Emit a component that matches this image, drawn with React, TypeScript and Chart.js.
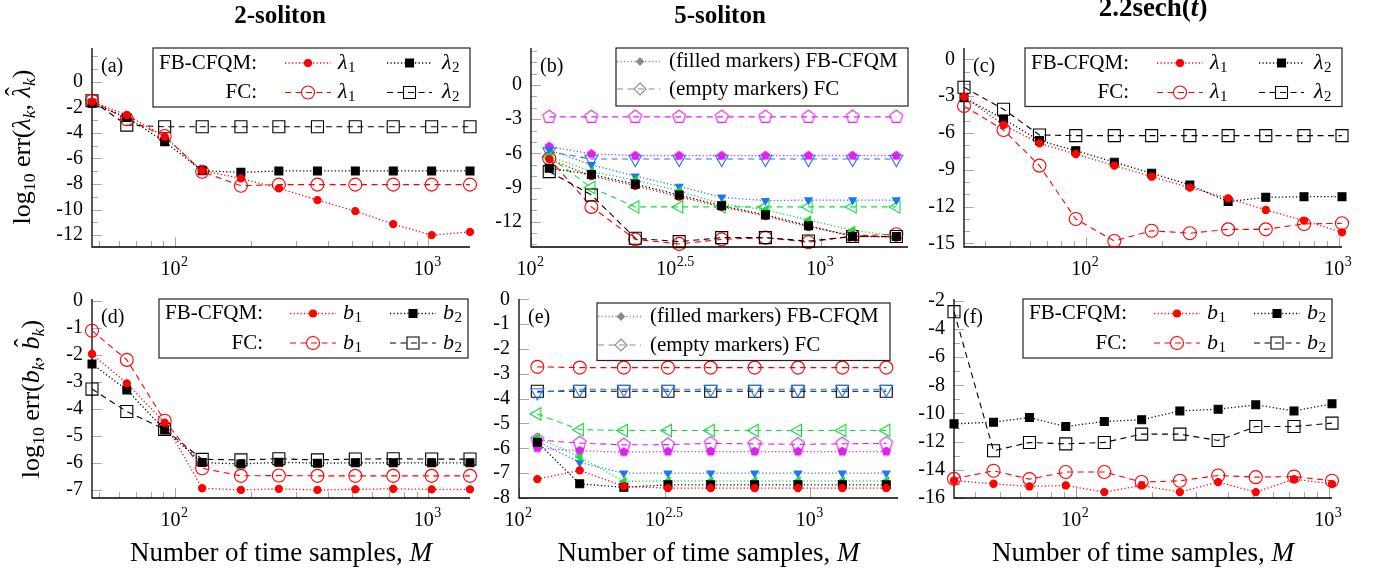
import React, { useEffect, useRef } from 'react';
import { Chart, registerables } from 'chart.js';

Chart.register(...registerables);

const FONT = "'Liberation Serif', 'Times New Roman', Times, serif";

// ---------------- data ----------------
// numbers of time samples M
const M_TWO = [47, 64.5, 91, 128, 182, 257, 365, 515, 727, 1031, 1461]; // (a),(d)
const M_FIVE = [115.6, 161.6, 229, 324.6, 455, 644, 907, 1288, 1823]; // (b),(e)
const M_SECH = [33, 47.3, 65.6, 91.3, 129.7, 182.2, 258, 365.6, 515, 729.5, 1031]; // (c),(f)

// x tick labels: 10^e
const X_EXP_DECADE = [2, 3];
const X_EXP_HALF = [2, 2.5, 3];

// y tick labels
const Y_TICKS_A = [0, -2, -4, -6, -8, -10, -12];
const Y_TICKS_B = [0, -3, -6, -9, -12];
const Y_TICKS_C = [0, -3, -6, -9, -12, -15];
const Y_TICKS_D = [0, -1, -2, -3, -4, -5, -6, -7];
const Y_TICKS_E = [0, -1, -2, -3, -4, -5, -6, -7, -8];
const Y_TICKS_F = [-2, -4, -6, -8, -10, -12, -14, -16];

// (a) 2-soliton, eigenvalues
const A_FB_L1 = [-1.56, -2.6, -4.3, -6.96, -7.56, -8.34, -9.26, -10.12, -11.14, -12.0, -11.75];
const A_FB_L2 = [-1.69, -2.79, -4.69, -6.96, -7.09, -6.98, -6.98, -6.98, -6.98, -6.98, -6.98];
const A_FC_L1 = [-1.49, -2.94, -4.25, -7.04, -8.14, -8.05, -8.05, -8.05, -8.05, -8.05, -8.05];
const A_FC_L2 = [-1.49, -3.39, -3.52, -3.52, -3.52, -3.52, -3.52, -3.52, -3.52, -3.52, -3.52];

// (b) 5-soliton, eigenvalues
const B_FB_MAG = [-5.4, -6.05, -6.2, -6.2, -6.2, -6.2, -6.2, -6.2, -6.2];
const B_FB_BLUE = [-5.7, -7.0, -8.0, -8.9, -9.85, -10.15, -10.1, -10.1, -10.1];
const B_FB_GREEN = [-6.25, -7.6, -8.35, -9.3, -10.45, -10.95, -11.85, -12.75, -13.25];
const B_FB_BLACK = [-7.3, -7.85, -8.7, -9.65, -10.6, -11.4, -12.35, -13.3, -13.3];
const B_FB_RED = [-6.5, -8.0, -8.85, -9.8, -10.7, -11.5, -12.45, -13.2, -13.4];
const B_FC_MAG = [-2.8, -2.8, -2.8, -2.8, -2.8, -2.8, -2.8, -2.8, -2.8];
const B_FC_BLUE = [-5.85, -6.5, -6.5, -6.5, -6.5, -6.5, -6.5, -6.5, -6.5];
const B_FC_GREEN = [-6.3, -9.0, -10.7, -10.7, -10.7, -10.7, -10.7, -10.7, -10.7];
const B_FC_BLACK = [-7.6, -9.65, -13.45, -13.75, -13.4, -13.4, -13.7, -13.3, -13.3];
const B_FC_RED = [-6.45, -10.7, -13.55, -13.95, -13.55, -13.4, -13.8, -13.25, -13.1];

// (c) 2.2 sech(t), eigenvalues
const C_FB_L1 = [-3.05, -5.35, -6.85, -7.72, -8.67, -9.57, -10.46, -11.33, -12.28, -13.15, -14.1];
const C_FB_L2 = [-3.13, -4.87, -6.63, -7.45, -8.39, -9.29, -10.24, -11.6, -11.25, -11.2, -11.2];
const C_FC_L1 = [-3.81, -5.76, -8.67, -13.02, -14.81, -13.97, -14.18, -13.86, -13.86, -13.42, -13.37];
const C_FC_L2 = [-2.28, -4.07, -6.17, -6.22, -6.22, -6.22, -6.22, -6.22, -6.22, -6.22, -6.22];

// (d) 2-soliton, norming constants
const D_FB_B1 = [-1.97, -3.06, -4.51, -6.94, -7.0, -6.96, -7.0, -6.98, -6.96, -6.98, -6.98];
const D_FB_B2 = [-2.34, -3.3, -4.78, -5.99, -6.04, -5.98, -6.01, -6.0, -6.0, -6.0, -6.0];
const D_FC_B1 = [-1.11, -2.19, -4.44, -6.2, -6.48, -6.47, -6.48, -6.48, -6.48, -6.48, -6.48];
const D_FC_B2 = [-3.27, -4.1, -4.76, -5.87, -5.89, -5.85, -5.89, -5.86, -5.85, -5.86, -5.86];

// (e) 5-soliton, norming constants
const E_FB_MAG = [-5.99, -6.1, -6.15, -6.13, -6.13, -6.13, -6.13, -6.13, -6.13];
const E_FB_BLUE = [-5.72, -6.57, -7.0, -7.0, -7.0, -7.0, -7.0, -7.0, -7.0];
const E_FB_GREEN = [-5.56, -6.35, -7.33, -7.31, -7.31, -7.31, -7.31, -7.31, -7.31];
const E_FB_BLACK = [-5.76, -7.43, -7.57, -7.47, -7.47, -7.47, -7.47, -7.47, -7.47];
const E_FB_RED = [-7.24, -6.89, -7.53, -7.6, -7.6, -7.6, -7.6, -7.6, -7.6];
const E_FC_RED = [-2.72, -2.75, -2.75, -2.75, -2.75, -2.75, -2.75, -2.75, -2.75];
const E_FC_BLACK = [-3.7, -3.7, -3.7, -3.7, -3.7, -3.7, -3.7, -3.7, -3.7];
const E_FC_BLUE = [-3.75, -3.62, -3.62, -3.62, -3.62, -3.62, -3.62, -3.62, -3.62];
const E_FC_GREEN = [-4.62, -5.25, -5.28, -5.28, -5.28, -5.28, -5.28, -5.28, -5.28];
const E_FC_MAG = [-5.66, -5.79, -5.86, -5.85, -5.8, -5.82, -5.84, -5.82, -5.8];

// (f) 2.2 sech(t), norming constants
const F_FB_B1 = [-14.76, -14.99, -15.18, -15.11, -15.58, -15.11, -15.58, -14.87, -15.58, -14.66, -15.01];
const F_FB_B2 = [-10.74, -10.62, -10.29, -10.93, -10.57, -10.45, -9.82, -9.7, -9.39, -9.82, -9.32];
const F_FC_B1 = [-14.64, -14.07, -14.66, -14.16, -14.16, -14.87, -14.78, -14.4, -14.52, -14.48, -14.78];
const F_FC_B2 = [-2.78, -12.65, -12.06, -12.16, -12.06, -11.47, -11.47, -11.92, -10.93, -10.93, -10.69];

// ---------------- styles ----------------
const RED = '#ff0000';
const BLACK = '#000000';
const GREEN = '#12e03c';
const BLUE = '#1f77f0';
const MAG = '#dc22ee';
const GREY = '#8a8a8a';
const TICK_COLOR = '#a8a8a8';
const DOTTED = [1.2, 2.3];
const DASHED = [6, 4.5];

type Marker = 'circle' | 'rect' | 'triD' | 'triL' | 'pent';
interface SeriesDef { xs: number[]; ys: number[]; color: string; filled: boolean; marker: Marker; }

const MARKER_SIZE: Record<Marker, [number, number]> = {
  circle: [3.6, 6.5],
  rect: [5.6, 8.5],
  triD: [4.3, 7.5],
  triL: [4.3, 7.2],
  pent: [4.3, 6.7],
};

function makePentagon(color: string, filled: boolean, r: number) {
  const s = Math.ceil(2 * r + 4);
  const c = document.createElement('canvas');
  c.width = s; c.height = s;
  const g = c.getContext('2d')!;
  g.beginPath();
  for (let k = 0; k < 5; k++) {
    const a = -Math.PI / 2 + (k * 2 * Math.PI) / 5;
    const px = s / 2 + r * Math.cos(a), py = s / 2 + r * Math.sin(a);
    if (k === 0) g.moveTo(px, py); else g.lineTo(px, py);
  }
  g.closePath();
  if (filled) { g.fillStyle = color; g.fill(); }
  g.strokeStyle = color; g.lineWidth = 1.1; g.stroke();
  return c;
}

function buildDataset(s: SeriesDef) {
  const size = MARKER_SIZE[s.marker][s.filled ? 0 : 1];
  let pointStyle: any = 'circle';
  let rotation = 0;
  if (s.marker === 'rect') pointStyle = 'rect';
  if (s.marker === 'triD') { pointStyle = 'triangle'; rotation = 180; }
  if (s.marker === 'triL') { pointStyle = 'triangle'; rotation = 270; }
  if (s.marker === 'pent') pointStyle = makePentagon(s.color, s.filled, size);
  return {
    data: s.xs.map((x, i) => ({ x, y: s.ys[i] })),
    borderColor: s.color,
    borderWidth: s.filled ? 1.3 : 1.1,
    borderDash: s.filled ? DOTTED : DASHED,
    pointStyle,
    pointRotation: rotation,
    pointRadius: size,
    pointHoverRadius: size,
    pointBackgroundColor: s.filled ? s.color : 'rgba(0,0,0,0)',
    pointBorderColor: s.color,
    pointBorderWidth: 1.1,
    fill: false,
    tension: 0,
    clip: false,
  };
}

interface LegendDef {
  kind: 'grid' | 'note';
  sym?: string;
  w: number; h: number; dx: number; dy: number;
  cols?: number[][];
  rowY: number[];
}

interface PanelDef {
  key: string; L: number; T: number; R: number; B: number;
  xMin: number; xMax: number; yMin: number; yMax: number;
  yTicks: number[]; yMinor: boolean; xExp: number[]; xMinor: boolean;
  label: string; series: SeriesDef[]; legend: LegendDef;
}

const s = (xs: number[], ys: number[], color: string, filled: boolean, marker: Marker): SeriesDef => ({ xs, ys, color, filled, marker });

const LAMBDA_COLS = [[132, 178, 185], [234, 279, 289]];
const B_COLS = [[131, 177, 184], [231, 277, 284]];

const PANELS: PanelDef[] = [
  {
    key: 'a', L: 92, T: 48, R: 470, B: 247, xMin: 47, xMax: 1461, yMin: -12.93, yMax: 2.64,
    yTicks: Y_TICKS_A, yMinor: true, xExp: X_EXP_DECADE, xMinor: true, label: '(a)',
    series: [
      s(M_TWO, A_FB_L1, RED, true, 'circle'),
      s(M_TWO, A_FB_L2, BLACK, true, 'rect'),
      s(M_TWO, A_FC_L1, RED, false, 'circle'),
      s(M_TWO, A_FC_L2, BLACK, false, 'rect'),
    ],
    legend: { kind: 'grid', sym: 'λ', w: 317, h: 59, dx: 0, dy: 0, cols: LAMBDA_COLS, rowY: [15, 44.5] },
  },
  {
    key: 'b', L: 531, T: 48, R: 908, B: 247, xMin: 100, xMax: 2000, yMin: -14.22, yMax: 3.25,
    yTicks: Y_TICKS_B, yMinor: true, xExp: X_EXP_HALF, xMinor: false, label: '(b)',
    series: [
      s(M_FIVE, B_FB_BLACK, BLACK, true, 'rect'),
      s(M_FIVE, B_FB_RED, RED, true, 'circle'),
      s(M_FIVE, B_FB_GREEN, GREEN, true, 'triL'),
      s(M_FIVE, B_FB_BLUE, BLUE, true, 'triD'),
      s(M_FIVE, B_FB_MAG, MAG, true, 'pent'),
      s(M_FIVE, B_FC_BLACK, BLACK, false, 'rect'),
      s(M_FIVE, B_FC_RED, RED, false, 'circle'),
      s(M_FIVE, B_FC_GREEN, GREEN, false, 'triL'),
      s(M_FIVE, B_FC_BLUE, BLUE, false, 'triD'),
      s(M_FIVE, B_FC_MAG, MAG, false, 'pent'),
    ],
    legend: { kind: 'note', w: 292, h: 58, dx: 0, dy: 0, rowY: [13.5, 41] },
  },
  {
    key: 'c', L: 964, T: 48, R: 1342, B: 247, xMin: 33, xMax: 1031, yMin: -15.3, yMax: 0.92,
    yTicks: Y_TICKS_C, yMinor: true, xExp: X_EXP_DECADE, xMinor: true, label: '(c)',
    series: [
      s(M_SECH, C_FB_L1, RED, true, 'circle'),
      s(M_SECH, C_FB_L2, BLACK, true, 'rect'),
      s(M_SECH, C_FC_L1, RED, false, 'circle'),
      s(M_SECH, C_FC_L2, BLACK, false, 'rect'),
    ],
    legend: { kind: 'grid', sym: 'λ', w: 317, h: 58.5, dx: 0, dy: 0, cols: LAMBDA_COLS, rowY: [15, 44.5] },
  },
  {
    key: 'd', L: 92, T: 299, R: 470, B: 498, xMin: 47, xMax: 1461, yMin: -7.3, yMax: 0.063,
    yTicks: Y_TICKS_D, yMinor: false, xExp: X_EXP_DECADE, xMinor: true, label: '(d)',
    series: [
      s(M_TWO, D_FB_B1, RED, true, 'circle'),
      s(M_TWO, D_FB_B2, BLACK, true, 'rect'),
      s(M_TWO, D_FC_B1, RED, false, 'circle'),
      s(M_TWO, D_FC_B2, BLACK, false, 'rect'),
    ],
    legend: { kind: 'grid', sym: 'b', w: 309, h: 59, dx: -2, dy: 0, cols: B_COLS, rowY: [14.5, 44] },
  },
  {
    key: 'e', L: 519, T: 299, R: 898, B: 498, xMin: 100, xMax: 2000, yMin: -8, yMax: 0.012,
    yTicks: Y_TICKS_E, yMinor: false, xExp: X_EXP_HALF, xMinor: false, label: '(e)',
    series: [
      s(M_FIVE, E_FB_RED, RED, true, 'circle'),
      s(M_FIVE, E_FB_BLACK, BLACK, true, 'rect'),
      s(M_FIVE, E_FB_GREEN, GREEN, true, 'triL'),
      s(M_FIVE, E_FB_BLUE, BLUE, true, 'triD'),
      s(M_FIVE, E_FB_MAG, MAG, true, 'pent'),
      s(M_FIVE, E_FC_BLUE, BLUE, false, 'triD'),
      s(M_FIVE, E_FC_BLACK, BLACK, false, 'rect'),
      s(M_FIVE, E_FC_RED, RED, false, 'circle'),
      s(M_FIVE, E_FC_GREEN, GREEN, false, 'triL'),
      s(M_FIVE, E_FC_MAG, MAG, false, 'pent'),
    ],
    legend: { kind: 'note', w: 293, h: 57.5, dx: -8, dy: 4, rowY: [13.5, 42] },
  },
  {
    key: 'f', L: 954, T: 299, R: 1332, B: 498, xMin: 33, xMax: 1031, yMin: -16, yMax: -1.88,
    yTicks: Y_TICKS_F, yMinor: true, xExp: X_EXP_DECADE, xMinor: true, label: '(f)',
    series: [
      s(M_SECH, F_FB_B1, RED, true, 'circle'),
      s(M_SECH, F_FB_B2, BLACK, true, 'rect'),
      s(M_SECH, F_FC_B1, RED, false, 'circle'),
      s(M_SECH, F_FC_B2, BLACK, false, 'rect'),
    ],
    legend: { kind: 'grid', sym: 'b', w: 309, h: 59, dx: 0, dy: 0, cols: B_COLS, rowY: [14.5, 44] },
  },
];

const PAD_L = 92, PAD_T = 30, PAD_R = 20, PAD_B = 45;

function drawMarker(ctx: CanvasRenderingContext2D, marker: string, x: number, y: number, color: string, filled: boolean) {
  ctx.save();
  ctx.setLineDash([]);
  ctx.strokeStyle = color; ctx.fillStyle = color; ctx.lineWidth = 1.1;
  ctx.beginPath();
  if (marker === 'circle') {
    ctx.arc(x, y, filled ? 3.5 : 6.5, 0, Math.PI * 2);
  } else if (marker === 'rect') {
    const h = filled ? 4 : 6;
    ctx.rect(x - h, y - h, 2 * h, 2 * h);
  } else {
    const h = filled ? 3.6 : 6;
    ctx.moveTo(x, y - h); ctx.lineTo(x + h, y); ctx.lineTo(x, y + h); ctx.lineTo(x - h, y); ctx.closePath();
  }
  if (filled) ctx.fill();
  ctx.stroke();
  ctx.restore();
}

function sampleLine(ctx: CanvasRenderingContext2D, x0: number, x1: number, y: number, color: string, filled: boolean) {
  ctx.save();
  ctx.strokeStyle = color;
  ctx.lineWidth = filled ? 1.3 : 1.1;
  ctx.setLineDash(filled ? DOTTED : DASHED);
  ctx.beginPath(); ctx.moveTo(x0, y); ctx.lineTo(x1, y); ctx.stroke();
  ctx.restore();
}

function drawLegend(ctx: CanvasRenderingContext2D, ca: any, lg: LegendDef) {
  const x0 = ca.right + lg.dx - lg.w, y0 = ca.top + lg.dy;
  ctx.save();
  ctx.fillStyle = '#ffffff'; ctx.fillRect(x0, y0, lg.w, lg.h);
  ctx.strokeStyle = '#222'; ctx.lineWidth = 1.2; ctx.setLineDash([]);
  ctx.strokeRect(x0, y0, lg.w, lg.h);
  ctx.textBaseline = 'middle';
  if (lg.kind === 'grid') {
    const rows = [{ label: 'FB-CFQM:', filled: true }, { label: 'FC:', filled: false }];
    const items = [{ color: RED, marker: 'circle', sub: '1' }, { color: BLACK, marker: 'rect', sub: '2' }];
    rows.forEach((row, ri) => {
      const cy = y0 + lg.rowY[ri];
      ctx.fillStyle = '#000'; ctx.font = `21px ${FONT}`; ctx.textAlign = 'right';
      ctx.fillText(row.label, x0 + 104, cy);
      items.forEach((it, ii) => {
        const c = lg.cols![ii];
        const s0 = x0 + c[0], s1 = x0 + c[1], tx = x0 + c[2];
        sampleLine(ctx, s0, s1, cy, it.color, row.filled);
        drawMarker(ctx, it.marker, (s0 + s1) / 2, cy, it.color, row.filled);
        ctx.fillStyle = '#000'; ctx.textAlign = 'left';
        ctx.font = `italic 22px ${FONT}`;
        ctx.fillText(lg.sym!, tx, cy);
        const w = ctx.measureText(lg.sym!).width;
        ctx.font = `15px ${FONT}`;
        ctx.fillText(it.sub, tx + w + 0.5, cy + 5);
      });
    });
  } else {
    const rows = [{ text: '(filled markers) FB-CFQM', filled: true }, { text: '(empty markers) FC', filled: false }];
    rows.forEach((row, ri) => {
      const cy = y0 + lg.rowY[ri];
      sampleLine(ctx, x0 + 1, x0 + 44, cy, GREY, row.filled);
      drawMarker(ctx, 'diamond', x0 + 24, cy, GREY, row.filled);
      ctx.fillStyle = '#000'; ctx.textAlign = 'left'; ctx.font = `21px ${FONT}`;
      ctx.fillText(row.text, x0 + 53, cy);
    });
  }
  ctx.restore();
}

function makeDecor(p: PanelDef) {
  return {
    id: 'decor_' + p.key,
    beforeDatasetsDraw(chart: any) {
      const { ctx, chartArea: ca } = chart;
      const sx = chart.scales.x, sy = chart.scales.y;
      ctx.save();
      ctx.strokeStyle = TICK_COLOR; ctx.lineWidth = 1; ctx.setLineDash([]);
      ctx.beginPath();
      for (const v of p.yTicks) {
        const py = Math.round(sy.getPixelForValue(v)) + 0.5;
        ctx.moveTo(ca.left, py); ctx.lineTo(ca.left + 10, py);
      }
      if (p.yMinor) {
        for (let v = Math.ceil(p.yMin); v <= Math.floor(p.yMax); v++) {
          if (p.yTicks.includes(v)) continue;
          const py = Math.round(sy.getPixelForValue(v)) + 0.5;
          ctx.moveTo(ca.left, py); ctx.lineTo(ca.left + 6, py);
        }
      }
      for (const e of p.xExp) {
        const px = Math.round(sx.getPixelForValue(Math.pow(10, e))) + 0.5;
        ctx.moveTo(px, ca.bottom); ctx.lineTo(px, ca.bottom - 10);
      }
      if (p.xMinor) {
        for (let d = 1; d <= 3; d++) {
          for (let k = 2; k <= 9; k++) {
            const v = k * Math.pow(10, d);
            if (v <= p.xMin || v >= p.xMax) continue;
            const px = Math.round(sx.getPixelForValue(v)) + 0.5;
            ctx.moveTo(px, ca.bottom); ctx.lineTo(px, ca.bottom - 6);
          }
        }
      }
      ctx.stroke();
      ctx.strokeStyle = '#000'; ctx.lineWidth = 1.3;
      ctx.beginPath();
      ctx.moveTo(ca.left, ca.top); ctx.lineTo(ca.left, ca.bottom); ctx.lineTo(ca.right, ca.bottom);
      ctx.stroke();
      ctx.restore();
    },
    afterDraw(chart: any) {
      const { ctx, chartArea: ca } = chart;
      const sx = chart.scales.x;
      ctx.save();
      ctx.fillStyle = '#000';
      ctx.textBaseline = 'alphabetic';
      ctx.textAlign = 'left';
      for (const e of p.xExp) {
        const px = sx.getPixelForValue(Math.pow(10, e));
        const es = String(e);
        ctx.font = `20px ${FONT}`;
        const w1 = ctx.measureText('10').width;
        ctx.font = `14px ${FONT}`;
        const w2 = ctx.measureText(es).width;
        const x0 = px - (w1 + w2) / 2 - 1;
        const by = ca.bottom + 27.5;
        ctx.font = `20px ${FONT}`;
        ctx.fillText('10', x0, by);
        ctx.font = `14px ${FONT}`;
        ctx.fillText(es, x0 + w1 + 0.5, by - 9);
      }
      ctx.font = `20px ${FONT}`;
      ctx.textBaseline = 'middle';
      ctx.fillText(p.label, ca.left + 9, ca.top + 18.5);
      drawLegend(ctx, ca, p.legend);
      ctx.restore();
    },
  };
}

function buildConfig(p: PanelDef): any {
  return {
    type: 'line',
    data: { datasets: p.series.map(buildDataset) },
    options: {
      responsive: false,
      maintainAspectRatio: false,
      animation: false,
      events: [],
      layout: { padding: { left: 0, top: PAD_T, right: PAD_R, bottom: 0 } },
      plugins: { legend: { display: false }, tooltip: { enabled: false }, title: { display: false } },
      scales: {
        x: {
          type: 'logarithmic', min: p.xMin, max: p.xMax, bounds: 'data',
          grid: { display: false, drawTicks: false }, border: { display: false },
          ticks: { display: false },
          afterFit: (sc: any) => { sc.height = PAD_B; },
        },
        y: {
          type: 'linear', min: p.yMin, max: p.yMax, bounds: 'data',
          grid: { display: false, drawTicks: false }, border: { display: false },
          ticks: {
            color: '#000', padding: 9, autoSkip: false,
            font: { family: FONT, size: 20 },
            callback: (v: any) => String(v),
          },
          afterBuildTicks: (sc: any) => { sc.ticks = p.yTicks.map((value) => ({ value })); },
          afterFit: (sc: any) => { sc.width = PAD_L; },
        },
      },
    },
    plugins: [makeDecor(p)],
  };
}

function Panel({ p }: { p: PanelDef }) {
  const ref = useRef<HTMLCanvasElement>(null);
  const w = p.R - p.L + PAD_L + PAD_R;
  const h = p.B - p.T + PAD_T + PAD_B;
  useEffect(() => {
    const chart = new Chart(ref.current!, buildConfig(p));
    return () => chart.destroy();
  }, []);
  return (
    <canvas
      ref={ref}
      width={w}
      height={h}
      style={{ position: 'absolute', left: p.L - PAD_L, top: p.T - PAD_T, width: w, height: h }}
    />
  );
}

const subStyle: React.CSSProperties = { fontSize: '0.68em', verticalAlign: '-0.28em', lineHeight: 0 };

function Hat({ ch }: { ch: string }) {
  return (
    <span style={{ position: 'relative', display: 'inline-block', fontStyle: 'italic' }}>
      {ch}
      <span style={{ position: 'absolute', left: 0, right: 0, top: '-0.27em', textAlign: 'center', fontStyle: 'normal' }}>ˆ</span>
    </span>
  );
}

function YTitle({ cx, cy, sym }: { cx: number; cy: number; sym: string }) {
  return (
    <div
      style={{
        position: 'absolute', left: cx, top: cy, transform: 'translate(-50%, -50%) rotate(-90deg)',
        font: `26px ${FONT}`, lineHeight: '26px', whiteSpace: 'nowrap', color: '#000',
      }}
    >
      log<span style={subStyle}>10</span>&nbsp;err(<i>{sym}</i><span style={subStyle}><i>k</i></span>,&nbsp;<Hat ch={sym} /><span style={subStyle}><i>k</i></span>)
    </div>
  );
}

function Title({ cx, top, size, children }: { cx: number; top: number; size: number; children: React.ReactNode }) {
  return (
    <div
      style={{
        position: 'absolute', left: cx, top, transform: 'translateX(-50%)',
        font: `bold ${size}px ${FONT}`, lineHeight: `${size}px`, whiteSpace: 'nowrap', color: '#000',
      }}
    >
      {children}
    </div>
  );
}

function XTitle({ cx }: { cx: number }) {
  return (
    <div
      style={{
        position: 'absolute', left: cx, top: 539, transform: 'translateX(-50%)',
        font: `27px ${FONT}`, lineHeight: '27px', whiteSpace: 'nowrap', color: '#000',
      }}
    >
      Number of time samples, <i>M</i>
    </div>
  );
}

export default function App() {
  return (
    <div style={{ position: 'absolute', left: 0, top: 0, width: 1385, height: 571, background: '#fff', overflow: 'hidden' }}>
      {PANELS.map((p) => <Panel key={p.key} p={p} />)}
      <Title cx={280} top={2} size={25}>2-soliton</Title>
      <Title cx={720} top={2} size={25}>5-soliton</Title>
      <Title cx={1153} top={-6} size={27}>2.2sech(<i>t</i>)</Title>
      <YTitle cx={22} cy={147} sym="λ" />
      <YTitle cx={30.5} cy={399} sym="b" />
      <XTitle cx={281} />
      <XTitle cx={708.5} />
      <XTitle cx={1143} />
    </div>
  );
}
